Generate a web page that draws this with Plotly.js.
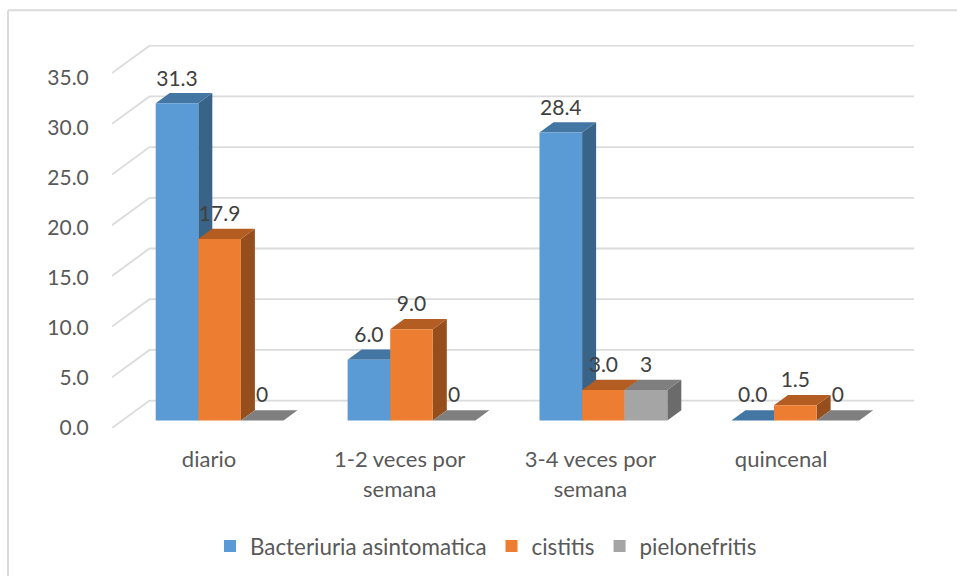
<!DOCTYPE html>
<html><head><meta charset="utf-8">
<script src="https://cdn.plot.ly/plotly-3.0.1.min.js"></script>
<style>html,body{margin:0;padding:0;background:#fff}</style></head>
<body><div id="chart" style="width:957px;height:578px"></div>
<script>
const categories = ["diario", "1-2 veces por<br>semana", "3-4 veces por<br>semana", "quincenal"];
const seriesNames = ["Bacteriuria asintomatica", "cistitis", "pielonefritis"];
const bacteriuria = [31.3, 6.0, 28.4, 0.0];
const cistitis = [17.9, 9.0, 3.0, 1.5];
const pielonefritis = [0, 0, 3, 0];
const bacteriuriaLabels = ["31.3", "6.0", "28.4", "0.0"];
const cistitisLabels = ["17.9", "9.0", "3.0", "1.5"];
const pielonefritisLabels = ["0", "0", "3", "0"];
const yTicks = [0, 5, 10, 15, 20, 25, 30, 35];
const frontColors = ["#5B9BD5", "#ED7D31", "#A5A5A5"];
const topColors = ["#4476A3", "#B35D22", "#7F7F7F"];
const sideColors = ["#3A6487", "#964E1C", "#6B6B6B"];

const W = 957, H = 578, L = 112, R = 914, T = 45, B = 429.5;
const PXU = 10.18, PXC = 191.9, C0 = 219.6, LABEL_PXU = 10.05, LABEL_Y0 = 429.5;
const xOf = px => (px - C0) / PXC;
const xRange = [xOf(L), xOf(R)];
const yRange = [0, (B - T) / PXU];
const y2Range = [(LABEL_Y0 - B) / LABEL_PXU, (LABEL_Y0 - T) / LABEL_PXU];
const barW = 42.6 / PXC, floorLift = (B - 422) / PXU;
const depthX = 14 / PXC, depthY = 10.3 / PXU;
const wallX = xOf(149.5), wallY = 27.5 / PXU;
const labelLiftPx = LABEL_Y0 - 398.5;
const series = [bacteriuria, cistitis, pielonefritis];
const labels = [bacteriuriaLabels, cistitisLabels, pielonefritisLabels];
const idx = categories.map((_, i) => i);
const tickXs = idx.map(i => xOf(209 + 190.7 * i));

const gridLine = "#DBDBDB";
const shapes = [];
const px2paperX = p => (p - L) / (R - L), px2paperY = p => (B - p) / (B - T);
shapes.push({ type: "line", xref: "paper", yref: "paper", x0: px2paperX(8), x1: px2paperX(957), y0: px2paperY(10), y1: px2paperY(10), line: { color: gridLine, width: 2 }, layer: "below" });
shapes.push({ type: "line", xref: "paper", yref: "paper", x0: px2paperX(8), x1: px2paperX(8), y0: px2paperY(10), y1: px2paperY(578), line: { color: gridLine, width: 2 }, layer: "below" });
yTicks.forEach(t => {
  shapes.push({ type: "path", xref: "x", yref: "y", layer: "below",
    path: `M${xRange[0]},${t} L${wallX},${t + wallY} L${xRange[1]},${t + wallY}`,
    line: { color: gridLine, width: 1.8 } });
});
const poly = (pts, color) => shapes.push({ type: "path", xref: "x", yref: "y", layer: "below",
  path: "M" + pts.map(p => p.join(",")).join(" L") + " Z", fillcolor: color, line: { width: 0 } });
idx.forEach(i => {
  series.forEach((vals, s) => {
    const x0 = i + (s - 1.5) * barW, x1 = x0 + barW;
    const b = floorLift, t = floorLift + vals[i];
    if (vals[i] > 0) poly([[x1, b], [x1 + depthX, b + depthY], [x1 + depthX, t + depthY], [x1, t]], sideColors[s]);
    poly([[x0, t], [x1, t], [x1 + depthX, t + depthY], [x0 + depthX, t + depthY]], topColors[s]);
  });
});

const fam = "Lato, 'Open Sans', sans-serif";
const traces = [];
series.forEach((vals, s) => traces.push({
  type: "bar", name: seriesNames[s], x: idx, y: vals, base: idx.map(() => floorLift),
  marker: { color: frontColors[s], line: { width: 0 } }, xaxis: "x", yaxis: "y", hoverinfo: "y"
}));
series.forEach((vals, s) => traces.push({
  type: "scatter", mode: "text", showlegend: false, xaxis: "x", yaxis: "y2", cliponaxis: false,
  x: idx.map(i => i + (s - 1) * barW), y: vals.map(v => (v * PXU * 0.998 + labelLiftPx) / LABEL_PXU), text: labels[s],
  textposition: "middle center", textfont: { family: fam, size: 21, color: "#404040" }, hoverinfo: "skip"
}));

const layout = {
  width: W, height: H, paper_bgcolor: "#fff", plot_bgcolor: "rgba(0,0,0,0)", showlegend: true,
  margin: { l: L, r: W - R, t: T, b: H - B, pad: 0 },
  barmode: "group", bargap: 1 - 3 * barW, bargroupgap: 0,
  font: { family: fam, color: "#595959", size: 21 },
  xaxis: { type: "linear", range: xRange, tickmode: "array", tickvals: tickXs,
    ticktext: categories.map(c => `<span style="font-size:22px">${c.replace("<br>", '</span><br><span style="font-size:22px">')}</span>`),
    tickfont: { family: fam, size: 23, color: "#595959" }, showgrid: false, zeroline: false, showline: false,
    ticks: "outside", ticklen: 10, tickcolor: "rgba(0,0,0,0)", fixedrange: true },
  yaxis: { range: yRange, showticklabels: false, showgrid: false, zeroline: false, showline: false, ticks: "", fixedrange: true },
  yaxis2: { overlaying: "y", side: "left", anchor: "x", range: y2Range, tickmode: "array", tickvals: yTicks, tickformat: ".1f",
    tickfont: { family: fam, size: 21, color: "#595959" }, showgrid: false, zeroline: false, showline: false,
    ticks: "outside", ticklen: 18, tickcolor: "rgba(0,0,0,0)", fixedrange: true },
  legend: { orientation: "h", xanchor: "left", yanchor: "middle", x: px2paperX(210), y: px2paperY(547),
    font: { family: fam, size: 22.4, color: "#595959" }, itemwidth: 30, bgcolor: "rgba(0,0,0,0)", traceorder: "normal" },
  shapes
};
Plotly.newPlot("chart", traces, layout, { displayModeBar: false, staticPlot: true });
</script></body></html>
